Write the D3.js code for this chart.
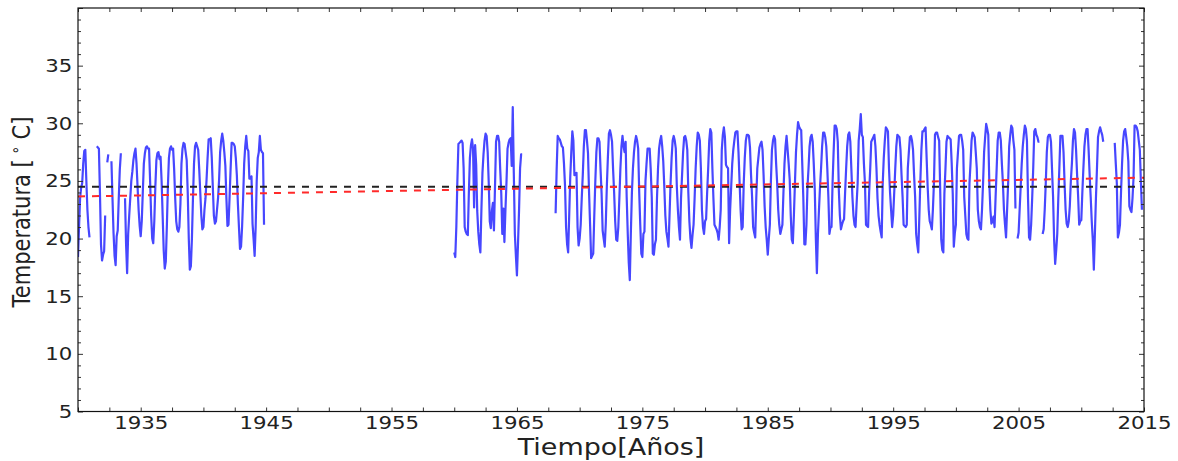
<!DOCTYPE html>
<html>
<head>
<meta charset="utf-8">
<script src="https://cdn.jsdelivr.net/npm/d3@7"></script>
<style>
  body { margin: 0; background: #fff; }
  svg { display: block; }
  text { font-family: "DejaVu Sans", sans-serif; fill: #222; }
</style>
</head>
<body>
<svg id="chart" width="1178" height="461"></svg>
<script>
// tick labels
const xTickLabels = [1935, 1945, 1955, 1965, 1975, 1985, 1995, 2005, 2015];
const yTickLabels = [5, 10, 15, 20, 25, 30, 35];

// monthly temperatures (Jan..Dec), null = no data
const inicio1 = 1930;
const temp1930 = [
  [18.4, 21.0, 23.5, 24.4, 24.8, 26.5, 27.6, 27.7, 25.0, 22.5, 21.0, 20.1],
  [null, null, null, null, null, null, 28.0, 27.9, 27.8, 24.0, 19.5, 18.1],
  [18.6, 18.9, 22.0, null, 26.6, 27.3, null, null, 26.7, 23.5, 20.5, 18.5],
  [17.7, 20.2, 20.7, 23.5, 26.0, 27.4, null, null, null, 23.5, 19.5, 17.0],
  [20.4, 22.0, 23.5, 25.0, 25.8, 26.8, 27.4, 27.8, 26.5, 24.5, 22.5, 21.1],
  [20.2, 21.5, 24.0, 26.5, 27.4, 27.9, 28.0, 27.8, 27.8, 25.0, 22.0, 20.0],
  [19.6, 21.5, 24.5, 26.8, 27.4, 27.5, 26.9, 27.1, 25.0, 22.0, 19.0, 17.4],
  [18.0, 21.0, 24.5, 27.0, 27.8, 28.0, 27.7, 27.8, 26.0, 23.5, 21.5, 20.8],
  [20.6, 21.0, 23.0, 26.5, 27.8, 28.3, 28.2, 27.5, 26.8, 24.0, 20.0, 17.3],
  [17.6, 20.0, 23.5, 26.5, 28.0, 28.3, 28.0, 27.7, 26.0, 24.0, 22.0, 20.8],
  [21.0, 22.5, 23.5, 25.1, 27.0, 28.6, 28.6, 28.7, 27.0, 24.5, 22.0, 21.3],
  [21.5, 22.5, 23.5, 25.1, 27.5, 28.5, 29.1, 28.5, 27.5, 26.3, 23.5, 21.1],
  [21.2, 23.5, 26.0, 28.3, 28.3, 28.2, 28.0, 27.0, 25.5, 23.0, 21.0, 19.1],
  [19.3, 21.0, 23.5, 26.5, 28.0, 28.9, 27.8, 27.6, 25.2, 25.2, 25.4, 21.3],
  [20.0, 18.5, 21.0, 25.0, 27.0, 27.5, 28.9, 27.7, 27.5, 27.4, 21.2, null]
];
const inicio2 = 1960;
const temp1960 = [
  [18.8, 18.4, 21.0, 25.0, 28.2, 28.3, 28.4, 28.5, 28.3, 26.1, 21.0, 20.6],
  [20.4, 20.3, 24.0, 27.0, 28.1, 28.6, 27.8, 22.7, 28.1, 26.4, 22.4, 20.6],
  [19.5, 18.8, 22.5, 25.7, 27.3, 28.5, 29.1, 28.9, 27.5, 24.9, 21.5, 20.9],
  [22.4, 23.1, 20.7, 24.5, 28.4, 28.9, 28.9, 28.4, 26.0, 23.9, 20.4, 22.6],
  [19.7, 22.5, 24.9, 27.8, 28.3, 28.6, 28.7, 26.3, 31.4, 25.7, 20.4, 18.5],
  [16.8, 19.5, 22.4, 26.1, 27.3, 27.3, null, null, null, null, null, null]
];
const inicio3 = 1968;
const temp1968 = [
  [null, 22.2, 26.0, 28.9, 28.7, 28.6, 28.3, 28.0, 27.9, 26.5, 24.6, 21.0],
  [19.5, 18.8, 22.0, 25.3, 27.5, 29.3, 28.5, 25.5, 25.6, 25.7, 21.0, 19.4],
  [20.0, 21.2, 23.5, 25.5, 28.0, 29.4, 29.4, 28.5, 27.4, 24.0, 21.2, 18.3],
  [18.5, 18.7, 22.0, 25.0, 27.5, 28.7, 28.7, 28.4, 26.0, 23.9, 20.7, 20.0],
  [19.3, 21.3, 24.5, 27.0, 29.1, 29.4, 29.0, 28.4, 26.0, 24.0, 21.5, 19.9],
  [19.8, 21.0, 23.5, 26.1, 28.0, 28.9, 28.0, 27.5, 28.4, 23.6, 20.5, 17.9],
  [16.4, 20.5, 24.0, 26.1, 27.5, 28.4, 28.9, 28.5, 27.8, 24.0, 21.2, 18.7],
  [18.4, 20.4, 20.6, 25.0, 26.5, 27.8, 27.8, 27.8, 26.0, 23.6, 18.7, 18.6],
  [19.5, 19.9, 23.5, 26.1, 27.8, 28.5, 28.9, 28.0, 26.7, 24.5, 22.0, 20.6],
  [20.0, 19.3, 22.0, 24.8, 27.0, 28.5, 28.9, 28.5, 27.8, 24.5, 22.5, 21.0],
  [19.9, 23.5, 25.5, 27.5, 28.8, 28.9, 28.5, 27.7, 24.0, 21.5, 20.0, 19.2],
  [20.3, 21.2, 23.5, 26.1, 28.0, 29.2, 29.0, 28.5, 26.1, 22.5, 21.0, 20.4],
  [21.5, 21.7, 24.0, 26.1, 28.5, 29.5, 29.2, 26.1, 23.5, 21.2, 21.0, 20.8],
  [20.5, 19.9, 21.0, 22.5, 27.7, 29.0, 29.65, 28.8, 26.4, 26.2, 26.1, 19.6],
  [22.5, 24.5, 26.5, 27.7, 28.5, 29.2, 29.3, 29.3, 27.5, 25.0, 22.5, 20.8],
  [21.0, 24.8, 27.0, 28.5, 29.0, 29.0, 28.9, 27.9, 25.5, 23.6, 21.0, 20.5],
  [20.1, 23.5, 26.1, 27.0, 27.9, 28.2, 28.4, 27.7, 25.5, 22.8, 21.0, 19.9],
  [18.6, 20.0, 21.2, 25.0, 27.7, 28.5, 28.9, 28.6, 26.5, 24.8, 22.5, 21.2],
  [20.4, 20.8, 21.2, 24.0, 26.5, 28.0, 28.9, 27.7, 26.5, 25.1, 22.0, 19.9],
  [19.6, 22.0, 24.8, 27.5, 29.0, 30.1, 29.7, 29.5, 29.4, 26.5, 23.6, 19.5],
  [19.5, 21.2, 24.5, 26.1, 28.0, 28.8, 29.0, 28.4, 26.5, 24.2, 20.0, 17.0],
  [20.4, 22.5, 24.5, 26.1, 28.0, 29.2, 29.2, 28.8, 28.0, 26.0, 23.6, 20.4],
  [21.0, 21.0, 24.8, 27.5, 29.8, 29.8, 29.5, 28.4, 24.2, 22.0, 20.8, 21.2],
  [21.5, 21.7, 24.0, 26.1, 28.0, 29.0, 29.2, 28.4, 26.0, 23.6, 22.0, 21.2],
  [21.0, 23.0, 24.8, 28.5, 29.5, 30.8, 29.0, 28.8, 26.5, 24.8, 21.2, 21.1],
  [21.0, 24.0, 26.0, 28.4, 28.6, 28.8, 29.0, 28.0, 26.1, 23.5, 22.0, 21.2],
  [20.6, 20.1, 24.8, 27.0, 28.5, 29.65, 29.5, 29.3, 26.1, 24.0, 22.5, 21.0],
  [22.0, 24.0, 26.1, 28.0, 29.0, 28.9, 28.8, 27.7, 25.5, 23.6, 21.2, 21.1],
  [21.0, 21.2, 26.1, 27.5, 28.8, 28.9, 28.5, 27.7, 25.5, 23.6, 20.4, 19.5],
  [18.8, 21.8, 25.0, 27.7, 29.3, 29.3, 29.5, 29.65, 27.0, 24.5, 22.5, 21.5],
  [21.2, 20.8, 22.5, 24.8, 29.0, 29.2, 29.2, 28.8, 28.5, 24.2, 19.9, 19.0],
  [18.8, 23.9, 26.0, 28.4, 28.9, 28.8, 28.7, 28.6, 26.5, 23.9, 19.3, 20.5],
  [21.2, 26.1, 27.5, 28.9, 29.0, 29.0, 28.5, 27.7, 23.6, 22.0, 20.4, 20.0],
  [19.9, 24.8, 26.5, 28.5, 29.2, 29.0, 28.8, 27.5, 26.1, 22.5, 21.5, 21.0],
  [20.8, 22.5, 24.8, 27.5, 28.8, 29.95, 29.5, 29.0, 24.8, 22.5, 21.3, 21.5],
  [21.9, 21.0, 23.6, 26.0, 28.5, 29.2, 29.2, 28.5, 26.5, 24.8, 22.5, 21.2],
  [20.1, 22.5, 24.8, 28.0, 29.0, 29.8, 29.6, 28.5, 27.7, 22.6, null, 20.0],
  [20.5, 22.5, 24.5, 26.5, 28.0, 29.0, 29.8, 29.5, 28.5, 23.6, 20.1, 19.9],
  [21.2, 23.5, 26.1, 29.3, 29.5, 29.0, 28.8, 28.4, 28.4, null, null, 20.4],
  [20.8, 22.5, 24.8, 27.5, 28.8, 29.0, 29.0, 28.4, 26.0, 23.6, 19.9, 17.8],
  [19.0, 20.4, 23.5, 26.1, 28.9, 28.9, 28.9, 27.5, 24.8, 22.5, 21.3, 21.0],
  [21.5, 22.8, 25.0, 26.5, 28.5, 29.5, 29.2, 27.7, 25.5, 23.6, 21.2, 21.5],
  [21.6, 24.0, 26.1, 28.0, 29.0, 29.5, 29.5, 27.7, 25.5, 23.6, 21.5, 19.9],
  [17.3, 20.4, 23.5, 26.1, 28.8, 29.3, 29.65, 29.3, 29.0, 28.4, null, null],
  [null, null, null, null, null, null, null, null, 28.3, 26.5, 24.8, 20.1],
  [20.5, 21.2, 24.0, 26.5, 28.5, 29.3, 29.5, 28.8, 28.0, 26.7, 22.8, 22.5],
  [22.3, 23.5, 25.3, 29.8, 29.8, 29.65, 29.3, 28.5, 27.7, 25.0, 22.5, null]
];

// mean and linear trend
const mediaTemp = 24.5;
const tendenciaAnios = [1930, 2015];
const tendenciaTemp = [23.65, 25.28];

// ------
const svg = d3.select('#chart');
const mLeft = 78, mRight = 1144, mTop = 8, mBottom = 411.5;
const sx = 1.15; // the picture is stretched a little horizontally

let x = d3.scaleLinear().domain([1930, 2015]).range([mLeft, mRight]);
let y = d3.scaleLinear().domain([5, 40]).range([mBottom, mTop]);

function aPuntos(inicio, filas) {
  return filas.flatMap((fila, i) => fila.map((v, m) => ({ t: inicio + i + m / 12, v: v })));
}
let serie = aPuntos(inicio1, temp1930)
  .concat(aPuntos(inicio2, temp1960))
  .concat(aPuntos(inicio3, temp1968));

svg.append('clipPath').attr('id', 'area')
  .append('rect').attr('x', mLeft).attr('y', mTop)
  .attr('width', mRight - mLeft).attr('height', mBottom - mTop);

let plot = svg.append('g').attr('clip-path', 'url(#area)');

let linea = d3.line()
  .defined(d => d.v != null)
  .x(d => x(d.t))
  .y(d => y(d.v));

plot.append('path')
  .datum(serie)
  .attr('d', linea)
  .attr('fill', 'none')
  .attr('stroke', '#4747ff')
  .attr('stroke-width', 2.2)
  .attr('stroke-linejoin', 'round');

// mean line (black dashed)
plot.append('line')
  .attr('x1', x(1930)).attr('x2', x(2015))
  .attr('y1', y(mediaTemp)).attr('y2', y(mediaTemp))
  .attr('stroke', '#222').attr('stroke-width', 2)
  .attr('stroke-dasharray', '7,7');

// trend line (red dashed)
plot.append('line')
  .attr('x1', x(tendenciaAnios[0])).attr('x2', x(tendenciaAnios[1]))
  .attr('y1', y(tendenciaTemp[0])).attr('y2', y(tendenciaTemp[1]))
  .attr('stroke', '#ff2a2a').attr('stroke-width', 2)
  .attr('stroke-dasharray', '7,7');

// ------
// axes, ticks pointing inward on all four sides
const xVals = d3.range(1930, 2015.01, 2.5);
const yVals = d3.range(5, 40.01, 1);
const yLen = d => (d % 5 === 0 ? 5 : 3);

let ejeX = svg.append('g').attr('transform', `translate(0,${mBottom})`)
  .call(d3.axisBottom(x).tickValues(xVals).tickSize(-4).tickPadding(4)
    .tickFormat(d => xTickLabels.includes(d) ? d : ''));
let ejeXTop = svg.append('g').attr('transform', `translate(0,${mTop})`)
  .call(d3.axisTop(x).tickValues(xVals).tickSize(-4).tickFormat(''));
let ejeY = svg.append('g').attr('transform', `translate(${mLeft},0)`)
  .call(d3.axisLeft(y).tickValues(yVals).tickSize(-5).tickPadding(5)
    .tickFormat(d => yTickLabels.includes(d) ? d : ''));
let ejeYRight = svg.append('g').attr('transform', `translate(${mRight},0)`)
  .call(d3.axisRight(y).tickValues(yVals).tickSize(-5).tickFormat(''));

ejeY.selectAll('.tick line').attr('x2', d => yLen(d));
ejeYRight.selectAll('.tick line').attr('x2', d => -yLen(d));

[ejeX, ejeXTop, ejeY, ejeYRight].forEach(g => {
  g.select('.domain').remove();
  g.selectAll('.tick line').attr('stroke', '#333');
  g.selectAll('text')
    .attr('font-family', '"DejaVu Sans", sans-serif')
    .attr('font-size', 18.5)
    .attr('fill', '#222')
    .attr('transform', `scale(${sx},1)`);
});

// frame
svg.append('rect')
  .attr('x', mLeft).attr('y', mTop)
  .attr('width', mRight - mLeft).attr('height', mBottom - mTop)
  .attr('fill', 'none').attr('stroke', '#111').attr('stroke-width', 1.2);

// axis titles
svg.append('text')
  .attr('transform', `translate(${(mLeft + mRight) / 2},455) scale(${sx * 1.02},1)`)
  .attr('text-anchor', 'middle')
  .attr('font-size', 23)
  .text('Tiempo[Años]');

let yTitulo = svg.append('text')
  .attr('transform', `translate(30,212) scale(${sx},1) rotate(-90)`)
  .attr('text-anchor', 'middle')
  .attr('font-size', 21);
yTitulo.append('tspan').text('Temperatura [');
yTitulo.append('tspan').attr('font-size', 14).attr('dy', -8).text(' ∘');
yTitulo.append('tspan').attr('dy', 8).text(' C]');
</script>
</body>
</html>
